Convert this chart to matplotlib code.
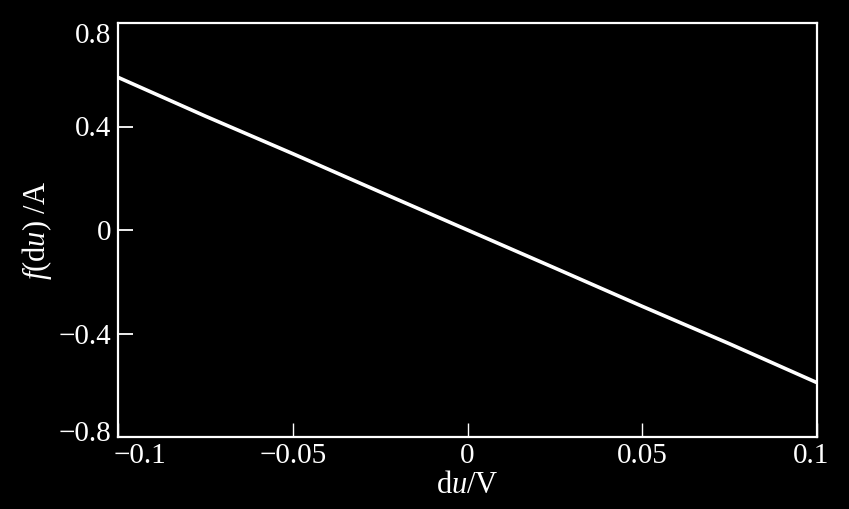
import numpy as np
import matplotlib.pyplot as plt
from matplotlib.transforms import ScaledTranslation

###Data
du = [-0.1, -0.075, -0.05, -0.025, 0.0, 0.025, 0.05, 0.075, 0.1]
fdu = [0.59, 0.44, 0.295, 0.147, 0.0, -0.147, -0.295, -0.44, -0.59]
xticks = [-0.1, -0.05, 0, 0.05, 0.1]
xlabels = ['\u22120.1', '\u22120.05', '0', '0.05', '0.1']
yticks = [-0.8, -0.4, 0, 0.4, 0.8]
ylabels = ['\u22120.8', '\u22120.4', '0', '0.4', '0.8']

plt.rcParams['font.family'] = 'Liberation Serif'
plt.rcParams['mathtext.fontset'] = 'custom'
plt.rcParams['mathtext.rm'] = 'Liberation Serif'
plt.rcParams['mathtext.it'] = 'Liberation Serif:italic'

fig = plt.figure(figsize=(8.49, 5.09), dpi=100, facecolor='black')
ax = fig.add_axes([118/849, 1-437/509, (817-118)/849, (437-23)/509])
ax.set_facecolor('black')

ax.plot(du, fdu, color='white', lw=2.6)

ax.set_xlim(-0.1, 0.1)
ax.set_ylim(-0.8, 0.8)
ax.set_xticks(xticks)
ax.set_xticklabels(xlabels)
ax.set_yticks(yticks)
ax.set_yticklabels(ylabels)

for s in ax.spines.values():
    s.set_color('white')
    s.set_linewidth(1.6)
ax.tick_params(axis='both', direction='in', colors='white', labelsize=21,
               width=1.3)
ax.tick_params(axis='y', length=11, pad=5)
ax.tick_params(axis='x', length=10, width=1.0, pad=4)

#nudge the end labels inward like the reference
def nudge(lbl, dx, dy):
    lbl.set_transform(lbl.get_transform() + ScaledTranslation(dx/100, dy/100, fig.dpi_scale_trans))

xl = ax.get_xticklabels()
nudge(xl[0], 22, 0)
nudge(xl[-1], -6, 0)
yl = ax.get_yticklabels()
nudge(yl[0], 0, 6)
nudge(yl[-1], 0, -10)

ax.set_xlabel(r'd$\it{u}$/V', color='white', fontsize=22, labelpad=2)
ax.set_ylabel(r'$\it{f}$(d$\it{u}$) /A', color='white', fontsize=22, labelpad=3)

fig.savefig('out.png', dpi=100, facecolor='black')
